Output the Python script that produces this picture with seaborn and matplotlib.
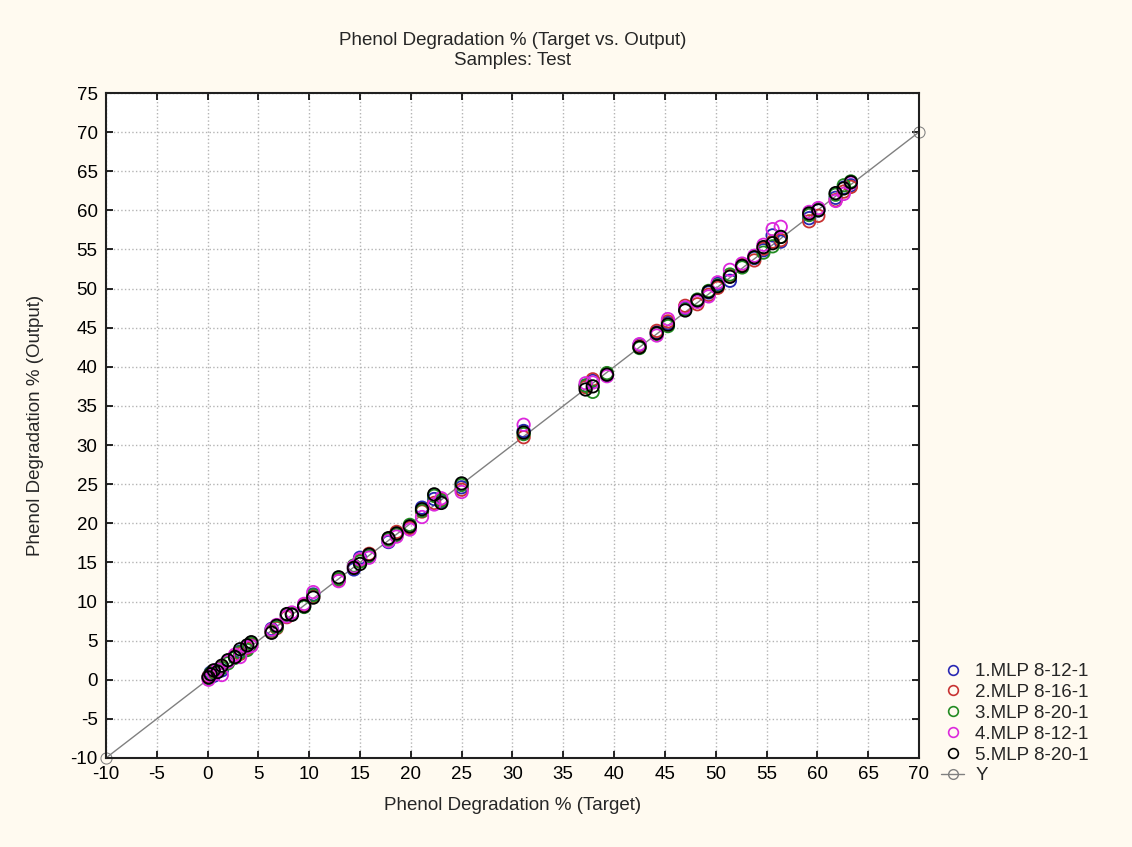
import numpy as np
import pandas as pd
import seaborn as sns
import matplotlib.pyplot as plt
from matplotlib.lines import Line2D

# target values (shared by all networks)
target = [0.1, 0.3, 0.6, 1.0, 1.4, 2.0, 2.7, 3.2, 3.9, 4.3, 6.3, 6.8, 7.8, 8.3, 9.5, 10.4,
          12.9, 14.4, 15.0, 15.9, 17.8, 18.6, 19.9, 21.1, 22.3, 23.0, 25.0, 31.1, 37.2, 37.9,
          39.3, 42.5, 44.2, 45.3, 47.0, 48.2, 49.3, 50.2, 51.4, 52.6, 53.8, 54.7, 55.6, 56.4,
          59.2, 60.1, 61.8, 62.6, 63.3]

out_mlp1 = [0.4, 0.9, 0.5, 1.3, 1.2, 2.4, 3.0, 3.6, 4.1, 4.6, 6.5, 6.9, 8.2, 8.5, 9.4, 10.9,
            12.8, 14.1, 15.6, 15.7, 17.6, 18.7, 19.6, 22.0, 23.1, 22.8, 24.6, 31.8, 37.6, 38.2,
            39.0, 42.8, 44.4, 45.6, 47.5, 48.4, 49.5, 50.6, 51.0, 52.8, 53.9, 54.9, 56.8, 56.0,
            59.0, 60.0, 61.6, 62.9, 63.2]
out_mlp2 = [0.4, 0.6, 1.0, 1.1, 1.6, 2.2, 3.1, 3.3, 4.0, 4.4, 6.1, 6.6, 8.0, 8.5, 9.6, 10.6,
            12.7, 14.3, 15.2, 16.1, 18.0, 18.9, 19.4, 21.5, 22.6, 23.0, 24.3, 31.0, 37.4, 38.4,
            39.1, 42.6, 44.6, 45.8, 47.8, 48.0, 49.2, 50.1, 51.6, 53.0, 53.6, 55.1, 56.0, 56.2,
            58.6, 59.3, 61.3, 62.4, 63.0]
out_mlp3 = [0.2, 0.8, 0.9, 1.2, 1.5, 2.1, 2.8, 3.5, 3.8, 4.6, 6.3, 6.7, 8.3, 8.4, 9.3, 10.8,
            12.9, 14.6, 15.1, 15.8, 17.9, 18.5, 19.8, 21.6, 23.5, 22.9, 24.9, 31.4, 37.6, 36.8,
            39.2, 42.4, 44.2, 45.2, 47.3, 48.6, 49.7, 50.4, 51.8, 52.7, 54.0, 54.6, 55.4, 56.6,
            59.4, 60.2, 62.0, 63.2, 63.7]
out_mlp4 = [0.0, 0.5, 0.7, 1.3, 0.6, 2.3, 3.2, 2.9, 4.2, 4.3, 6.4, 7.0, 8.1, 8.6, 9.7, 11.2,
            12.6, 14.5, 15.4, 15.6, 17.7, 18.3, 19.2, 20.8, 22.4, 23.2, 24.0, 32.6, 37.9, 38.0,
            38.8, 42.9, 44.0, 46.1, 47.6, 48.3, 49.0, 50.8, 52.4, 53.2, 54.2, 55.6, 57.6, 57.9,
            59.8, 60.3, 61.2, 62.1, 63.5]
out_mlp5 = [0.3, 0.7, 1.2, 1.0, 1.8, 2.5, 2.9, 3.9, 4.4, 4.8, 6.0, 6.9, 8.4, 8.3, 9.4, 10.5,
            13.1, 14.3, 14.8, 16.0, 18.1, 18.7, 19.6, 21.8, 23.7, 22.6, 25.1, 31.6, 37.1, 37.5,
            39.0, 42.5, 44.3, 45.4, 47.2, 48.5, 49.6, 50.3, 51.5, 52.9, 54.0, 55.3, 55.8, 56.6,
            59.6, 60.0, 62.2, 62.8, 63.6]

models = ["1.MLP 8-12-1", "2.MLP 8-16-1", "3.MLP 8-20-1", "4.MLP 8-12-1", "5.MLP 8-20-1"]
outputs = [out_mlp1, out_mlp2, out_mlp3, out_mlp4, out_mlp5]
colors = ["#2828b4", "#c83232", "#228b22", "#dc28dc", "#000000"]

line_x = [-10, 70]
line_y = [-10, 70]

sns.set_style("ticks")
plt.rcParams["font.family"] = ["Liberation Sans", "DejaVu Sans"]
plt.rcParams["axes.unicode_minus"] = False

fig = plt.figure(figsize=(11.32, 8.47), dpi=100, facecolor="#fffaf0")
ax = fig.add_axes([0.0936, 0.1051, 0.7182, 0.7851])
ax.set_facecolor("white")

# Y = X reference line
sns.lineplot(x=line_x, y=line_y, ax=ax, color="#808080", linewidth=1, marker="o",
             markersize=8, markerfacecolor="none", markeredgecolor="#808080", zorder=1,
             clip_on=False)

for name, out, col in zip(models, outputs, colors):
    sns.scatterplot(x=target, y=out, ax=ax, marker="o", s=80, facecolor="none",
                    edgecolor=col, linewidth=1.3, zorder=3)

ax.set_xlim(-10, 70)
ax.set_ylim(-10, 75)
ax.set_xticks(np.arange(-10, 71, 5))
ax.set_yticks(np.arange(-10, 76, 5))
ax.grid(True, linestyle=":", color="#b4b4b4", linewidth=1)
ax.tick_params(direction="in", length=5, width=1.2, top=True, right=True,
               labelsize=13.5, colors="black", pad=6)
for sp in ax.spines.values():
    sp.set_linewidth(1.5)
    sp.set_color("#202020")

ax.set_title("Phenol Degradation % (Target vs. Output)\nSamples: Test", fontsize=13.5,
             pad=20, linespacing=1.25)
ax.set_xlabel("Phenol Degradation % (Target)", fontsize=13.5, labelpad=10)
ax.set_ylabel("Phenol Degradation % (Output)", fontsize=13.5, labelpad=19)

handles = [Line2D([], [], linestyle="none", marker="o", markersize=7, markerfacecolor="none",
                  markeredgecolor=c, markeredgewidth=1.2) for c in colors]
handles.append(Line2D([], [], color="#808080", linewidth=1, marker="o", markersize=7,
                      markerfacecolor="none", markeredgecolor="#808080"))
fig.legend(handles, models + ["Y"], loc="lower left", bbox_to_anchor=(0.825, 0.065),
           frameon=False, fontsize=13.5, handlelength=1.2, handletextpad=0.6,
           labelspacing=0.2, borderaxespad=0.0)

fig.savefig("out.png", dpi=100, facecolor=fig.get_facecolor())
